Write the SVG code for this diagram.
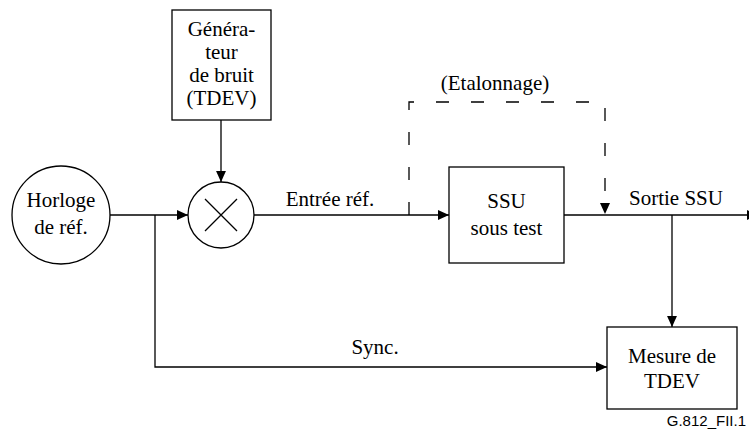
<svg xmlns="http://www.w3.org/2000/svg" width="749" height="434" viewBox="0 0 749 434">
<defs>
<style>
.s{fill:none;stroke:#000;stroke-width:1.3}
.b{fill:#fff;stroke:#000;stroke-width:1.3}
.t{font-family:'Liberation Serif','Times New Roman',serif;font-size:21px;fill:#000;text-anchor:middle}
.d{fill:none;stroke:#000;stroke-width:1.3;stroke-dasharray:13 22}
.c{font-family:'Liberation Sans',Arial,sans-serif;font-size:15px;fill:#000;text-anchor:end}
</style>
<marker id="a" viewBox="0 0 10 10" refX="10" refY="5" markerWidth="11" markerHeight="11" markerUnits="userSpaceOnUse" orient="auto">
<path d="M0,0.5 L10,5 L0,9.5 Z" fill="#000"/>
</marker>
</defs>
<g id="connectors">
<path class="s" d="M221,120 V182" marker-end="url(#a)"/>
<path class="s" d="M110,215 H188" marker-end="url(#a)"/>
<path class="s" d="M254,215 H449" marker-end="url(#a)"/>
<path class="s" d="M155,215 V367 H607" marker-end="url(#a)"/>
<path class="s" d="M564,215 H758" marker-end="url(#a)"/>
<path class="s" d="M672,215 V327" marker-end="url(#a)"/>
<path class="d" d="M409,215 V102 H605 V203"/>
<path d="M600,203 L610,203 L605,214 Z" fill="#000"/>
</g>
<g id="generateur">
<rect class="b" x="172" y="10" width="99" height="110"/>
<text class="t" x="221.5" y="36">Généra-</text>
<text class="t" x="221.5" y="59">teur</text>
<text class="t" x="221.5" y="82">de bruit</text>
<text class="t" x="221.5" y="105">(TDEV)</text>
</g>
<g id="horloge">
<circle class="b" cx="61" cy="215" r="49"/>
<text class="t" x="61" y="207">Horloge</text>
<text class="t" x="61" y="234">de réf.</text>
</g>
<g id="multiplicateur">
<circle class="b" cx="221" cy="215" r="33"/>
<path class="s" d="M205,199 L237,231 M237,199 L205,231"/>
</g>
<g id="ssu">
<rect class="b" x="449" y="167" width="115" height="96"/>
<text class="t" x="506.5" y="208">SSU</text>
<text class="t" x="506.5" y="235">sous test</text>
</g>
<g id="mesure">
<rect class="b" x="607" y="327" width="130" height="82"/>
<text class="t" x="672" y="363">Mesure de</text>
<text class="t" x="672" y="388">TDEV</text>
</g>
<g id="labels">
<text class="t" x="330" y="206">Entrée réf.</text>
<text class="t" x="495" y="90">(Etalonnage)</text>
<text class="t" x="676" y="205">Sortie SSU</text>
<text class="t" x="375" y="354">Sync.</text>
<text class="c" x="746" y="426">G.812_FII.1</text>
</g>
</svg>
